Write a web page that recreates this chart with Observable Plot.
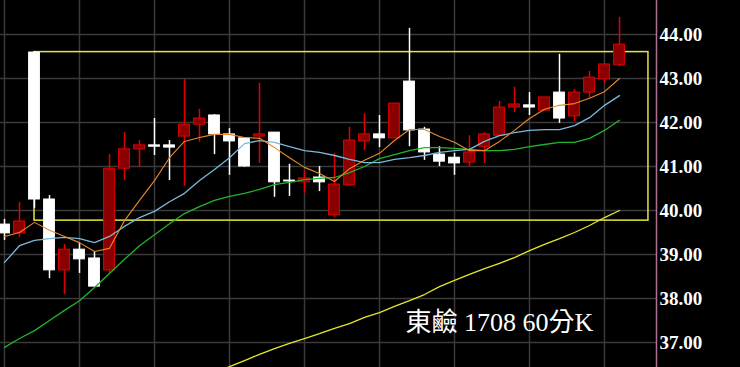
<!DOCTYPE html>
<html><head><meta charset="utf-8">
<script src="https://cdn.jsdelivr.net/npm/d3@7"></script>
<script src="https://cdn.jsdelivr.net/npm/@observablehq/plot@0.6"></script>
<style>html,body{margin:0;padding:0;background:#000;overflow:hidden}#chart svg{display:block}</style>
</head><body><div id="chart"></div>
<script>
// 60-minute candles, 東鹼 1708
const opens  = [39.68,39.48,43.59,40.25,38.64,39.11,38.91,38.64,40.95,41.39,41.48,41.48,41.68,41.95,42.16,41.73,41.64,41.68,41.77,40.68,40.64,40.75,39.89,40.57,41.57,41.73,41.64,42.93,41.84,41.27,41.20,41.09,41.45,41.70,42.34,42.39,42.27,42.68,42.14,42.68,42.98,43.30];
const highs  = [39.80,40.18,43.61,40.34,39.23,39.25,39.07,41.27,41.77,41.59,42.09,41.59,42.98,42.30,42.18,41.86,41.66,42.89,41.77,41.05,40.89,41.00,41.30,41.89,42.20,42.16,42.43,44.14,41.89,41.45,41.30,41.70,41.77,42.48,42.80,42.68,42.57,43.55,42.75,43.16,43.32,44.39];
const lows   = [39.32,39.39,40.05,38.45,38.09,38.57,38.27,38.57,40.68,40.98,41.25,40.68,40.55,41.55,41.27,40.80,40.98,41.07,40.30,40.32,40.39,40.43,39.84,40.57,41.36,41.43,41.64,41.45,41.14,41.00,40.80,40.98,41.07,41.70,42.23,42.16,42.27,41.98,42.02,42.55,42.89,43.27];
const closes = [39.48,39.75,40.25,38.64,39.11,38.89,38.27,40.95,41.39,41.48,41.45,41.43,41.95,42.09,41.73,41.57,41.00,41.73,40.64,40.66,40.73,40.64,40.59,41.59,41.73,41.64,42.43,41.82,41.32,41.11,41.07,41.32,41.73,42.34,42.41,42.34,42.57,42.09,42.68,43.02,43.32,43.77];

// moving averages
const maShort = [39.41,39.50,39.73,39.55,39.41,39.27,39.07,39.14,39.77,40.23,40.68,41.20,41.57,41.66,41.73,41.73,41.66,41.64,41.43,41.20,40.98,40.84,40.66,40.95,41.14,41.30,41.59,41.84,41.84,41.68,41.55,41.36,41.36,41.57,41.82,42.09,42.30,42.39,42.43,42.55,42.70,43.00];
const maMid   = [38.82,39.20,39.32,39.36,39.39,39.36,39.27,39.41,39.64,39.84,39.98,40.20,40.39,40.68,40.93,41.20,41.52,41.59,41.55,41.45,41.36,41.32,41.25,41.16,41.09,41.09,41.16,41.20,41.25,41.32,41.36,41.39,41.57,41.70,41.77,41.82,41.84,41.84,41.93,42.11,42.39,42.61];
const maLong  = [36.89,37.09,37.27,37.50,37.73,37.95,38.25,38.57,38.89,39.20,39.45,39.70,39.93,40.09,40.23,40.32,40.39,40.48,40.59,40.64,40.70,40.73,40.75,40.86,41.00,41.18,41.27,41.36,41.43,41.43,41.41,41.39,41.36,41.36,41.39,41.45,41.50,41.55,41.55,41.64,41.82,42.05];
const maYear  = [null,null,null,null,null,null,null,null,null,null,null,null,null,null,36.32,36.45,36.59,36.73,36.86,36.98,37.09,37.20,37.32,37.43,37.57,37.68,37.82,37.95,38.09,38.27,38.41,38.55,38.68,38.80,38.93,39.09,39.23,39.36,39.50,39.66,39.84,40.00];

const yTicks = [37, 38, 39, 40, 41, 42, 43, 44];
const xGridAt = [1, 6, 11, 16, 21, 26, 31, 36, 41];
const boxRange = [{start: 3, end: 43.93, top: 43.60, bottom: 39.77}];
const labelText = [{i: 27.73, price: 37.45, text: "東鹼 1708 60分K"}];
const xDomain = [0.7333, 44.4667];
const yDomain = [36.432, 44.7727];

const candles = opens.map((o, k) => ({
  i: k + 1, open: o, high: highs[k], low: lows[k], close: closes[k], up: closes[k] >= o
}));
const maRows = maShort.map((v, k) => ({i: k + 1, s: v, m: maMid[k], l: maLong[k], y: maYear[k]}));

const RED = "#e00000", REDFILL = "#8a0000", WHITE = "#ffffff";

const chart = Plot.plot({
  width: 740, height: 367,
  marginLeft: 0, marginTop: 0, marginBottom: 0, marginRight: 84,
  style: {background: "#000", color: "#fff", overflow: "hidden"},
  x: {type: "linear", domain: xDomain, axis: null},
  y: {type: "linear", domain: yDomain, axis: null},
  marks: [
    Plot.gridY(yTicks, {stroke: "#3a3a3a", strokeOpacity: 1, strokeWidth: 1.5}),
    Plot.gridX(xGridAt, {stroke: "#3a3a3a", strokeOpacity: 1, strokeWidth: 1.5}),
    Plot.rect(boxRange, {x1: "start", x2: "end", y1: "bottom", y2: "top", fill: "none", stroke: "#e6e63c", strokeWidth: 1.5}),
    Plot.ruleX(candles, {x: "i", y1: "low", y2: "high", stroke: d => d.up ? RED : WHITE, strokeWidth: 1.5}),
    Plot.rect(candles, {
      x1: d => d.i - 0.36, x2: d => d.i + 0.36,
      y1: "open", y2: "close",
      fill: d => d.up ? REDFILL : WHITE,
      stroke: d => d.up ? RED : WHITE, strokeWidth: 1
    }),
    Plot.line(maRows, {x: "i", y: "y", stroke: "#e6e62a", strokeWidth: 1.3, defined: d => d.y != null}),
    Plot.line(maRows, {x: "i", y: "l", stroke: "#22b42a", strokeWidth: 1.3}),
    Plot.line(maRows, {x: "i", y: "m", stroke: "#7ab8dc", strokeWidth: 1.3}),
    Plot.line(maRows, {x: "i", y: "s", stroke: "#e88a2c", strokeWidth: 1.1}),
    Plot.ruleX([xDomain[1]], {stroke: "#b0708f", strokeWidth: 1.5}),
    Plot.axisY(yTicks, {
      anchor: "right", tickSize: 0, tickPadding: 3,
      tickFormat: d => d.toFixed(2), label: null,
      fill: "#fff", fontSize: 19, fontWeight: "bold",
      fontFamily: "'Liberation Serif', 'DejaVu Serif', serif"
    }),
    Plot.text(labelText, {
      x: "i", y: "price", text: "text", textAnchor: "start", lineAnchor: "middle",
      fill: "#fff", fontSize: 26,
      fontFamily: "'Liberation Serif', 'Noto Sans CJK TC', serif"
    })
  ]
});
document.getElementById("chart").appendChild(chart);
</script>
</body></html>
